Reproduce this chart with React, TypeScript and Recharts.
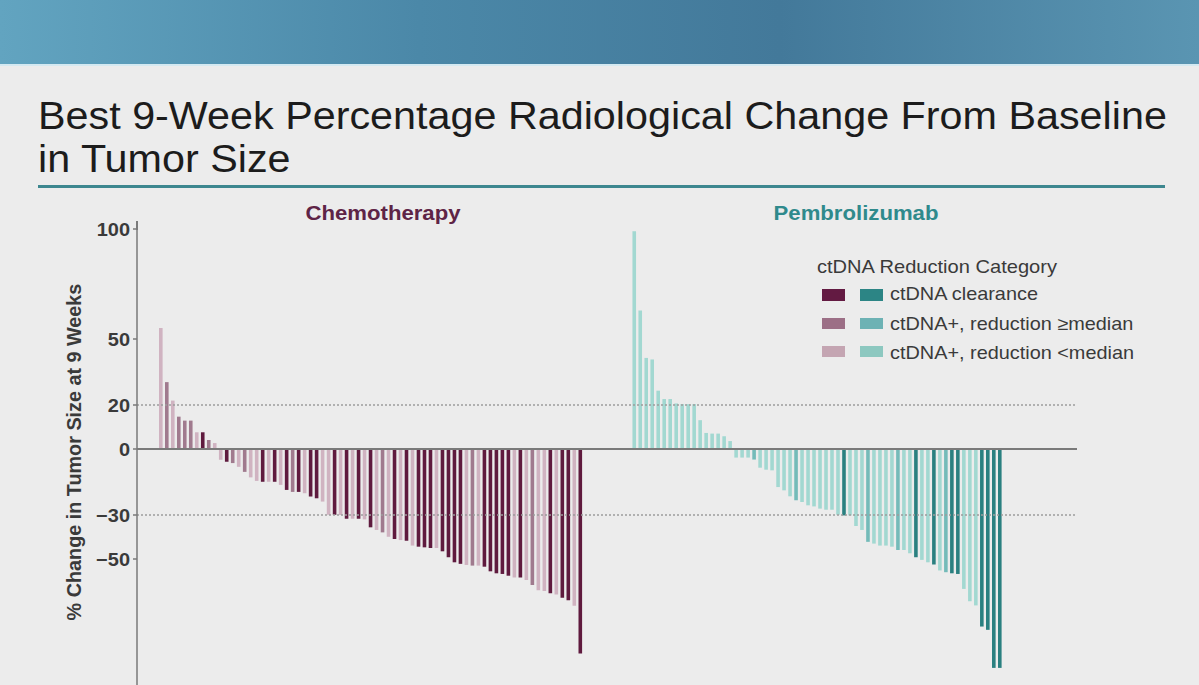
import { BarChart, Bar, XAxis, YAxis, ReferenceLine, Cell } from 'recharts';

// ctDNA category per bar: d = clearance, h = reduction >= median, l = reduction < median
type Cat = 'd' | 'h' | 'l';

const chemoValues = [
  55, 30.4, 22, 14.7, 12.9, 12.9, 7.6, 7.6, 4.1, 2.7,
  -4.9, -5.8, -6.4, -8.1, -10.4, -12.9, -14.5, -14.9, -14.9, -14.9,
  -16.3, -18.6, -19.5, -19.5, -20.1, -21.6, -22.4, -23.9, -29.9, -29.9,
  -30, -31.7, -31.7, -31.7, -32, -35.6, -36.8, -37.9, -39.9, -40.9,
  -41.4, -41.7, -43.9, -44.4, -44.7, -45, -45, -46.5, -49.2, -51.5,
  -52.2, -52.7, -53, -53, -53.5, -55.6, -56.5, -56.8, -57.6, -58.4,
  -58.4, -59.6, -61.8, -64.2, -64.5, -65.6, -66.1, -67.6, -68.8, -71.3,
  -92.9,
];
const chemoCats: Cat[] = [
  'l', 'h', 'l', 'h', 'h', 'h', 'l', 'd', 'h', 'l',
  'l', 'd', 'h', 'l', 'h', 'l', 'l', 'd', 'l', 'd',
  'l', 'd', 'h', 'd', 'l', 'd', 'd', 'l', 'l', 'd',
  'l', 'd', 'l', 'd', 'l', 'd', 'l', 'h', 'l', 'd',
  'l', 'd', 'l', 'd', 'd', 'd', 'l', 'd', 'd', 'd',
  'd', 'l', 'h', 'l', 'd', 'd', 'd', 'd', 'd', 'l',
  'd', 'l', 'h', 'l', 'l', 'd', 'l', 'd', 'd', 'l',
  'd',
];

const pembroValues = [
  99, 63, 41.4, 40.7, 26.5, 22.7, 22.7, 20.7, 20.4, 20.4,
  20.4, 13.1, 7.3, 7, 7, 5.8, 3.6, -3.9, -3.9, -3.9,
  -4.8, -8.5, -9.4, -9.7, -17.3, -18.8, -21.5, -23.3, -24.1, -25.6,
  -26.1, -27.1, -27.6, -27.6, -29.9, -30.2, -30.2, -35, -36.8, -42.2,
  -43, -43.9, -43.9, -44.4, -45.9, -45.9, -47.4, -49.2, -50.4, -51.5,
  -52.5, -55.2, -56, -56.5, -56.8, -63.6, -69.2, -71.1, -80.7, -82.2,
  -99.5, -99.5,
];
const pembroCats: Cat[] = [
  'l', 'l', 'l', 'l', 'l', 'l', 'l', 'l', 'l', 'l',
  'l', 'l', 'l', 'l', 'l', 'l', 'l', 'l', 'l', 'l',
  'h', 'l', 'l', 'l', 'l', 'l', 'l', 'h', 'l', 'l',
  'l', 'l', 'l', 'l', 'l', 'd', 'l', 'l', 'l', 'h',
  'l', 'l', 'l', 'l', 'h', 'l', 'l', 'd', 'l', 'l',
  'd', 'l', 'h', 'd', 'd', 'l', 'l', 'l', 'd', 'd',
  'd', 'd',
];

const GAP_SLOTS = 8;
const yTicks = [100, 50, 20, 0, -30, -50, -110];
const legendLabels = ['ctDNA clearance', 'ctDNA+, reduction \u2265median', 'ctDNA+, reduction <median'];
const legendOrder: Cat[] = ['d', 'h', 'l'];

const chemoColors: Record<Cat, string> = { d: '#5f1a3e', h: '#a07a8e', l: '#d0b3c1' };
const pembroColors: Record<Cat, string> = { d: '#2a8080', h: '#74bbb9', l: '#a2d8d1' };
const chemoSwatch: Record<Cat, string> = { d: '#631a42', h: '#9c6f86', l: '#c4a5b2' };
const pembroSwatch: Record<Cat, string> = { d: '#2c8585', h: '#6db2b4', l: '#8dc8c0' };

type Row = { idx: string; value: number | null; color: string };

const rows: Row[] = [
  ...chemoValues.map((v, i) => ({ idx: `c${i}`, value: v, color: chemoColors[chemoCats[i]] })),
  ...Array.from({ length: GAP_SLOTS }, (_, i) => ({ idx: `g${i}`, value: null, color: 'none' })),
  ...pembroValues.map((v, i) => ({ idx: `p${i}`, value: v, color: pembroColors[pembroCats[i]] })),
];

const FONT = '"Liberation Sans", Arial, Helvetica, sans-serif';
const STRETCH = 1.08;

// place text so its baseline lands on `baseline`
function TextAt({
  x,
  baseline,
  size,
  children,
  anchor = 'left',
  weight = 'normal',
  color = '#333',
  stretch = STRETCH,
}: {
  x: number;
  baseline: number;
  size: number;
  children: React.ReactNode;
  anchor?: 'left' | 'center';
  weight?: string;
  color?: string;
  stretch?: number;
}) {
  return (
    <div
      style={{
        position: 'absolute',
        left: x,
        top: baseline - 0.8465 * size,
        fontSize: size,
        lineHeight: 1,
        fontWeight: weight,
        color,
        whiteSpace: 'nowrap',
        transform: anchor === 'center' ? `translateX(-50%) scaleX(${stretch})` : `scaleX(${stretch})`,
        transformOrigin: anchor === 'center' ? 'center' : 'left',
      }}
    >
      {children}
    </div>
  );
}

function YTick(props: any) {
  const { x, y, payload } = props;
  const v = Number(payload.value);
  const label = v < 0 ? `\u2212${Math.abs(v)}` : `${v}`;
  return (
    <text
      transform={`translate(${x} ${y}) scale(${STRETCH} 1)`}
      x={0}
      y={0}
      dy={6.6}
      textAnchor="end"
      fontSize={18.5}
      fontWeight="bold"
      fill="#3a3a3a"
      fontFamily={FONT}
    >
      {label}
    </text>
  );
}

export default function App() {
  return (
    <div
      style={{
        position: 'absolute',
        left: 0,
        top: 0,
        width: 1199,
        height: 685,
        overflow: 'hidden',
        background: '#ececec',
        fontFamily: FONT,
      }}
    >
      <div
        style={{
          position: 'absolute',
          left: 0,
          top: 0,
          width: 1199,
          height: 64,
          background: 'linear-gradient(90deg, #62a4c0 0%, #4b88a8 35%, #43799a 65%, #5a95b2 100%)',
        }}
      />
      <div style={{ position: 'absolute', left: 0, top: 64, width: 1199, height: 2, background: '#d4e9f1' }} />

      <TextAt x={38} baseline={129.3} size={38} color="#1c1c1c" stretch={1.087}>
        Best 9-Week Percentage Radiological Change From Baseline
      </TextAt>
      <TextAt x={38} baseline={171.7} size={38} color="#1c1c1c" stretch={1.087}>
        in Tumor Size
      </TextAt>
      <div style={{ position: 'absolute', left: 38, top: 185, width: 1127, height: 3, background: '#3d878f' }} />

      <TextAt x={383} baseline={220} size={20.5} anchor="center" weight="bold" color="#5e2446">
        Chemotherapy
      </TextAt>
      <TextAt x={856} baseline={220} size={20.5} anchor="center" weight="bold" color="#2f8a8c">
        Pembrolizumab
      </TextAt>

      <div
        style={{
          position: 'absolute',
          left: 74,
          top: 452,
          fontSize: 19.8,
          fontWeight: 'bold',
          color: '#3a3a3a',
          whiteSpace: 'nowrap',
          transform: `translate(-50%, -50%) rotate(-90deg)`,
        }}
      >
        % Change in Tumor Size at 9 Weeks
      </div>

      {/* axis line runs a little above the 100 tick in the original */}
      <div style={{ position: 'absolute', left: 136.25, top: 221, width: 1.5, height: 9, background: '#7a7a7a' }} />

      <div style={{ position: 'absolute', left: 0, top: 0 }}>
        <BarChart width={1199} height={700} data={rows} margin={{ top: 229, right: 122, bottom: 9, left: 77 }}>
          <XAxis dataKey="idx" type="category" hide padding={{ left: 21, right: 74 }} />
          <YAxis
            type="number"
            domain={[-110, 100]}
            ticks={yTicks}
            interval={0}
            width={60}
            tickSize={4}
            tickMargin={3}
            stroke="#7a7a7a"
            strokeWidth={1.5}
            tick={(p: any) => <YTick {...p} />}
          />
          <ReferenceLine y={20} stroke="#9c9c9c" strokeWidth={1.5} strokeDasharray="2 2" />
          <ReferenceLine y={-30} stroke="#9c9c9c" strokeWidth={1.5} strokeDasharray="2 2" />
          <Bar dataKey="value" barSize={3.6} isAnimationActive={false}>
            {rows.map((r) => (
              <Cell key={r.idx} fill={r.color} />
            ))}
          </Bar>
          <ReferenceLine y={0} stroke="#7a7a7a" strokeWidth={2} />
        </BarChart>
      </div>

      <TextAt x={816.7} baseline={273.3} size={18.6} color="#3a3a3a">
        ctDNA Reduction Category
      </TextAt>
      {legendOrder.map((c, i) => (
        <div key={c}>
          <div
            style={{
              position: 'absolute',
              left: 821.7,
              top: 289.3 + i * 28.4,
              width: 23.3,
              height: 11.4,
              background: chemoSwatch[c],
            }}
          />
          <div
            style={{
              position: 'absolute',
              left: 860,
              top: 289.3 + i * 28.4,
              width: 22.7,
              height: 11.4,
              background: pembroSwatch[c],
            }}
          />
          <TextAt x={890} baseline={301 + i * 29.2} size={18.4} color="#3a3a3a">
            {legendLabels[i]}
          </TextAt>
        </div>
      ))}
    </div>
  );
}
